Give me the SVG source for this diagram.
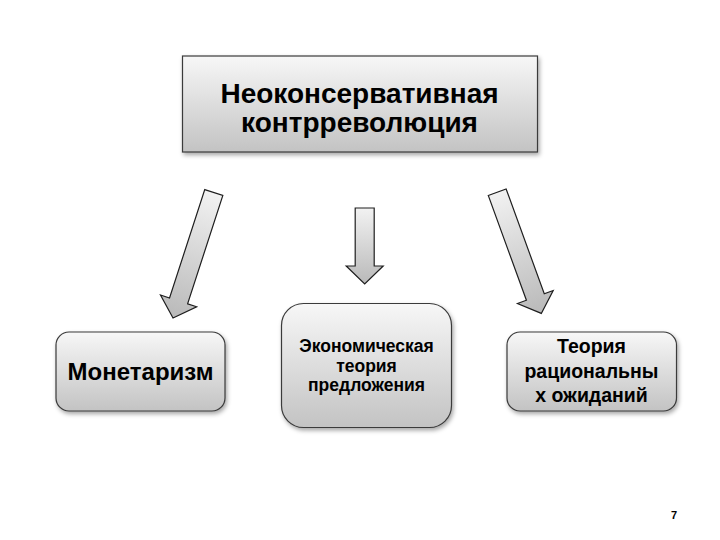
<svg xmlns="http://www.w3.org/2000/svg" width="720" height="540" viewBox="0 0 720 540">
<defs>
<linearGradient id="boxg" x1="0" y1="0" x2="0" y2="1">
<stop offset="0" stop-color="#f7f7f7"/>
<stop offset="1" stop-color="#c3c3c3"/>
</linearGradient>
<linearGradient id="arrg" x1="0" y1="0" x2="0" y2="1">
<stop offset="0" stop-color="#f2f2f2"/>
<stop offset="1" stop-color="#b9b9b9"/>
</linearGradient>
<filter id="sh" x="-10%" y="-10%" width="125%" height="130%">
<feDropShadow dx="1.5" dy="2.5" stdDeviation="2" flood-color="#000" flood-opacity="0.35"/>
</filter>
</defs>
<style>
.box{fill:url(#boxg);stroke:#3a3a3a;stroke-width:1.2;filter:url(#sh)}
.arr{fill:url(#arrg);stroke:#1e1e1e;stroke-width:1.2;stroke-linejoin:miter}
text{font-family:"Liberation Sans",Arial,sans-serif;font-weight:bold;fill:#000;text-anchor:middle}
</style>
<rect width="720" height="540" fill="#fff"/>
<g id="top">
<rect class="box" x="182.5" y="56" width="355" height="96"/>
<text x="359.5" y="103" font-size="28">Неоконсервативная</text>
<text x="359.5" y="132" font-size="28">контрреволюция</text>
</g>
<g id="connectors">
<path class="arr" transform="translate(213.8,192.5) rotate(18)" d="M-9.5 0 L9.5 0 L9.5 114 L19 114 L0 132 L-19 114 L-9.5 114 Z"/>
<path class="arr" transform="translate(364.7,208)" d="M-9.5 0 L9.5 0 L9.5 58 L18.5 58 L0 76 L-18.5 58 L-9.5 58 Z"/>
<path class="arr" transform="translate(497.2,192.2) rotate(-20)" d="M-9.5 0 L9.5 0 L9.5 111.5 L19 111.5 L0 129 L-19 111.5 L-9.5 111.5 Z"/>
</g>
<g id="monetarism">
<rect class="box" x="56" y="332" width="169" height="79" rx="13"/>
<text x="140.5" y="380" font-size="24">Монетаризм</text>
</g>
<g id="supply">
<rect class="box" x="281.5" y="303.5" width="170" height="124" rx="22"/>
<text x="366.5" y="352" font-size="17.5">Экономическая</text>
<text x="366.5" y="372" font-size="17.5">теория</text>
<text x="366.5" y="391" font-size="17.5">предложения</text>
</g>
<g id="rational">
<rect class="box" x="507" y="332" width="169.5" height="79" rx="13"/>
<text x="591.5" y="353" font-size="19.5">Теория</text>
<text x="591.5" y="378" font-size="19.5">рациональны</text>
<text x="591.5" y="402" font-size="19.5">х ожиданий</text>
</g>
<text x="674" y="519" font-size="11">7</text>
</svg>
